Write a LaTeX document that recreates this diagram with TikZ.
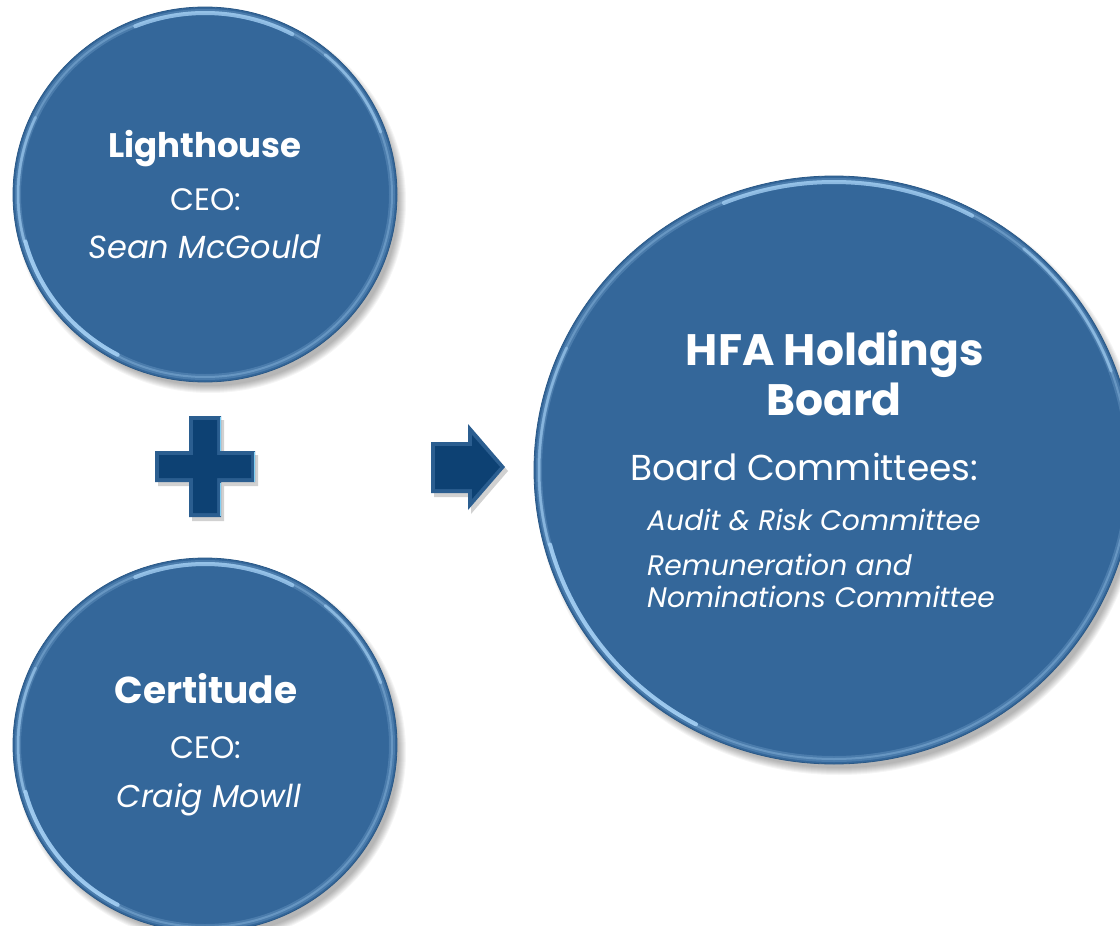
\documentclass[tikz,border=0pt]{standalone}
\usepackage{fontspec}
\setmainfont{Poppins}
\usetikzlibrary{shapes.geometric}

\definecolor{discblue}{HTML}{34679A}
\definecolor{discrim}{HTML}{2A5886}
\definecolor{rimlight}{HTML}{A8D4F8}
\definecolor{markblue}{HTML}{0D4173}
\definecolor{markedge}{HTML}{2B5E90}
\definecolor{markhi}{HTML}{7FD0F5}

\tikzset{
  disc/.style={ellipse, fill=discblue, draw=discrim, line width=0.8pt, inner sep=0pt},
  discshadow/.style={fill=black, opacity=0.04},
  rimglow/.style={draw=rimlight, line cap=round},
  title/.style={text=white, font=\bfseries\fontsize{#1}{#1}\selectfont, anchor=base, inner sep=0pt},
  plain/.style={text=white, font=\fontsize{#1}{#1}\selectfont, anchor=base, inner sep=0pt},
  slant/.style={text=white, font=\itshape\fontsize{#1}{#1}\selectfont, anchor=base, inner sep=0pt},
}

% disc with soft shadow and bevelled rim: name, cx, cy, rx, ry
\newcommand{\bevelDisc}[5]{%
  \foreach \k in {0,...,7}{
    \fill[discshadow] (#2+5,#3+7) ellipse [x radius=#4-3+\k, y radius=#5-3+\k];
  }
  \node[disc, minimum width=2*#4 pt, minimum height=2*#5 pt] (#1) at (#2,#3) {};
  % inner light ring
  \draw[rimglow, line width=6pt, opacity=0.2] (#2,#3) ellipse [x radius=#4-5, y radius=#5-5];
  \draw[rimglow, line width=2pt, opacity=0.3] (#2,#3) ellipse [x radius=#4-5, y radius=#5-5];
  % brighter highlights at the top and lower left
  \draw[rimglow, line width=4pt, opacity=0.7]
    ([shift={(-112:#4-6 and #5-6)}]#2,#3) arc [start angle=-112, end angle=-62, x radius=#4-6, y radius=#5-6];
  \draw[rimglow, line width=4pt, opacity=0.85]
    ([shift={(118:#4-6 and #5-6)}]#2,#3) arc [start angle=118, end angle=165, x radius=#4-6, y radius=#5-6];
  \draw[rimglow, line width=3pt, opacity=0.5]
    ([shift={(165:#4-5 and #5-5)}]#2,#3) arc [start angle=165, end angle=205, x radius=#4-5, y radius=#5-5];
  \draw[rimglow, line width=3pt, opacity=0.55]
    ([shift={(-50:#4-5 and #5-5)}]#2,#3) arc [start angle=-50, end angle=-20, x radius=#4-5, y radius=#5-5];
}

\begin{document}
\begin{tikzpicture}[x=1pt, y=-1pt]
  \useasboundingbox (0,0) rectangle (1120,926);
  \fill[white] (0,0) rectangle (1120,926);

  % the three discs
  \bevelDisc{lighthouse}{205}{194.5}{192}{187.5}
  \bevelDisc{certitude}{205}{745}{192}{187}
  \bevelDisc{hfa}{834}{470}{300}{294}

  % plus sign
  \fill[black, opacity=0.18] (192,420) -- (224,420) -- (224,455) -- (258,455) -- (258,486) -- (224,486) -- (224,521) -- (192,521) -- (192,486) -- (158,486) -- (158,455) -- (192,455) -- cycle;
  \fill[markedge] (189,416) -- (221,416) -- (221,451) -- (255,451) -- (255,482) -- (221,482) -- (221,517) -- (189,517) -- (189,482) -- (155,482) -- (155,451) -- (189,451) -- cycle;
  \fill[markblue] (193,420) -- (217,420) -- (217,455) -- (251,455) -- (251,478) -- (217,478) -- (217,513) -- (193,513) -- (193,478) -- (159,478) -- (159,455) -- (193,455) -- cycle;
  \draw[markhi, line width=1.6pt] (220.5,417) -- (220.5,451);
  \draw[markhi, line width=1.6pt] (254.5,452) -- (254.5,482);
  \draw[markhi, line width=1.6pt] (220.5,483) -- (220.5,516);
  \node[inner sep=0pt, minimum size=100pt] (plus) at (205,466.5) {};

  % arrow
  \fill[black, opacity=0.18] (434,446) -- (471,446) -- (471,428) -- (508,471) -- (471,514) -- (471,497) -- (434,497) -- cycle;
  \fill[markedge] (431,442) -- (468,442) -- (468,424) -- (505,467) -- (468,510) -- (468,493) -- (431,493) -- cycle;
  \fill[markblue] (435,446) -- (472,446) -- (472,435) -- (500,467) -- (472,499) -- (472,489) -- (435,489) -- cycle;
  \node[inner sep=0pt, minimum width=74pt, minimum height=86pt] (arrow) at (468,467) {};

  % Lighthouse
  \node[title=34] (lhname) at (205,157) {Lighthouse};
  \node[plain=31] (lhrole) at (206,210) {CEO:};
  \node[slant=32] (lhceo) at (205,258) {Sean McGould};

  % Certitude
  \node[title=37.5] (cename) at (206,703) {Certitude};
  \node[plain=31] (cerole) at (206,758) {CEO:};
  \node[slant=31.5] (ceceo) at (209,807) {Craig Mowll};

  % HFA Holdings Board
  \node[title=44] (hfa1) at (835,365) {HFA Holdings};
  \node[title=44] (hfa2) at (834,415) {Board};
  \node[plain=36, anchor=base west] (comm) at (630,480) {Board Committees:};
  \node[slant=28.2, anchor=base west] (audit) at (647,530) {Audit \& Risk Committee};
  \node[slant=28.2, anchor=base west] (remu1) at (647,575) {Remuneration and};
  \node[slant=28.2, anchor=base west] (remu2) at (647,607) {Nominations Committee};
\end{tikzpicture}
\end{document}
